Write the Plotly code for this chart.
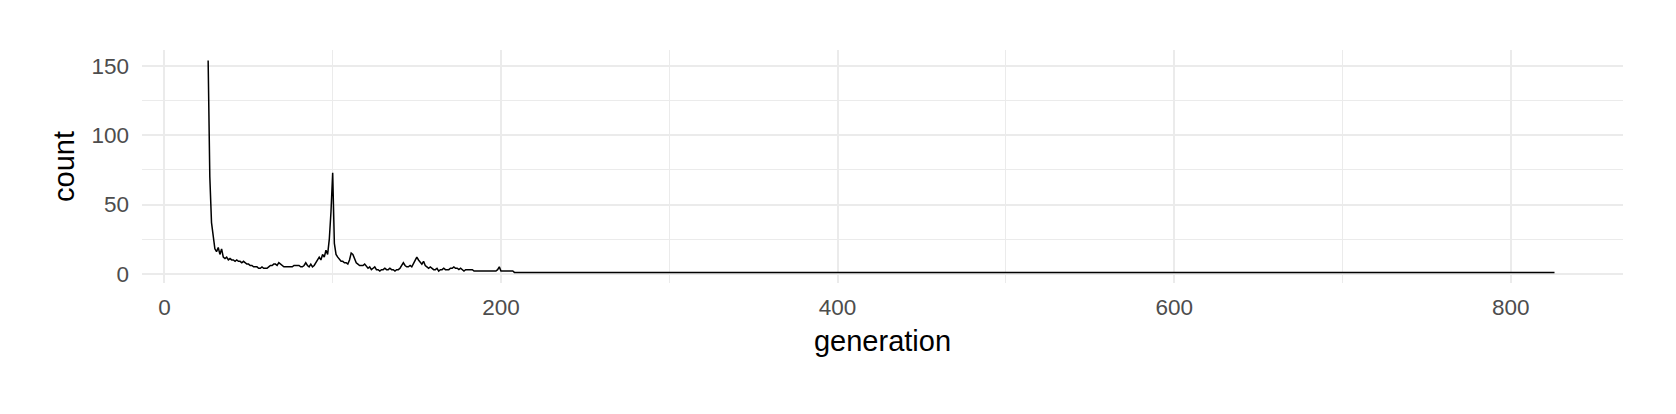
import plotly.graph_objects as go

# generations 26..208, then a flat tail of 1s up to 826
gen_start = 26
counts_early = [
    154, 70, 37, 26, 18, 16, 19, 14, 18, 12,   # 26-35
    11, 12, 10, 11, 10, 10, 9, 10, 9, 9,       # 36-45
    8, 9, 8, 7, 7, 6, 6, 5, 5, 5,              # 46-55
    4, 4, 5, 4, 4, 4, 5, 6, 6, 7,              # 56-65
    7, 6, 8, 7, 6, 5, 5, 5, 5, 5,              # 66-75
    5, 6, 6, 6, 6, 5, 5, 6, 8, 6,              # 76-85
    5, 7, 5, 6, 8, 9, 12, 10, 14, 12,          # 86-95
    17, 14, 25, 45, 73, 22, 14, 12, 10, 9,     # 96-105
    9, 8, 8, 7, 10, 15, 14, 11, 8, 7,          # 106-115
    6, 6, 6, 7, 5, 4, 5, 3, 4, 5,              # 116-125
    3, 3, 2, 3, 3, 4, 3, 3, 4, 3,              # 126-135
    3, 2, 3, 3, 4, 6, 8, 6, 5, 5,              # 136-145
    6, 5, 7, 9, 12, 10, 8, 7, 9, 6,            # 146-155
    5, 4, 5, 4, 3, 3, 4, 2, 3, 3,              # 156-165
    4, 3, 3, 3, 4, 4, 5, 4, 4, 3,              # 166-175
    4, 3, 2, 3, 3, 3, 3, 3, 2, 2,              # 176-185
    2, 2, 2, 2, 2, 2, 2, 2, 2, 2,              # 186-195
    2, 2, 3, 5, 2, 2, 2, 2, 2, 2,              # 196-205
    2, 2, 1,                                   # 206-208
]
gen_last = 826
tail_count = 1

generations = list(range(gen_start, gen_start + len(counts_early))) + [gen_last]
counts = counts_early + [tail_count]

x_ticks = [0, 200, 400, 600, 800]
y_ticks = [0, 50, 100, 150]

fig = go.Figure()
fig.add_trace(go.Scatter(
    x=generations, y=counts, mode="lines",
    line=dict(color="black", width=1.5),
    showlegend=False, hoverinfo="x+y",
))

grid = "#EBEBEB"
tick_font = dict(family="Liberation Sans, Arial, sans-serif", size=22.5, color="#4D4D4D")
title_font = dict(family="Liberation Sans, Arial, sans-serif", size=29, color="black")

fig.update_layout(
    width=1676, height=414,
    margin=dict(l=142, r=53, t=50, b=131),
    paper_bgcolor="white", plot_bgcolor="white",
    font=dict(family="Liberation Sans, Arial, sans-serif"),
    xaxis=dict(
        range=[-13.3, 866.7],
        tickvals=x_ticks, ticktext=[str(v) for v in x_ticks],
        showgrid=True, gridcolor=grid, gridwidth=2,
        minor=dict(showgrid=True, gridcolor=grid, gridwidth=1, dtick=100, tick0=0),
        zeroline=False, showline=False, ticks="",
        tickfont=tick_font, ticklabelstandoff=8,
        title=dict(text="generation", font=title_font, standoff=12),
    ),
    yaxis=dict(
        range=[-6.65, 161.65],
        tickvals=y_ticks, ticktext=[str(v) for v in y_ticks],
        showgrid=True, gridcolor=grid, gridwidth=2,
        minor=dict(showgrid=True, gridcolor=grid, gridwidth=1, dtick=25, tick0=0),
        zeroline=False, showline=False, ticks="",
        tickfont=tick_font, ticklabelstandoff=12,
        title=dict(text="count", font=title_font, standoff=8),
    ),
)

fig.write_html("out.html", config={"displayModeBar": False},
               post_script="document.body.style.margin='0';")
